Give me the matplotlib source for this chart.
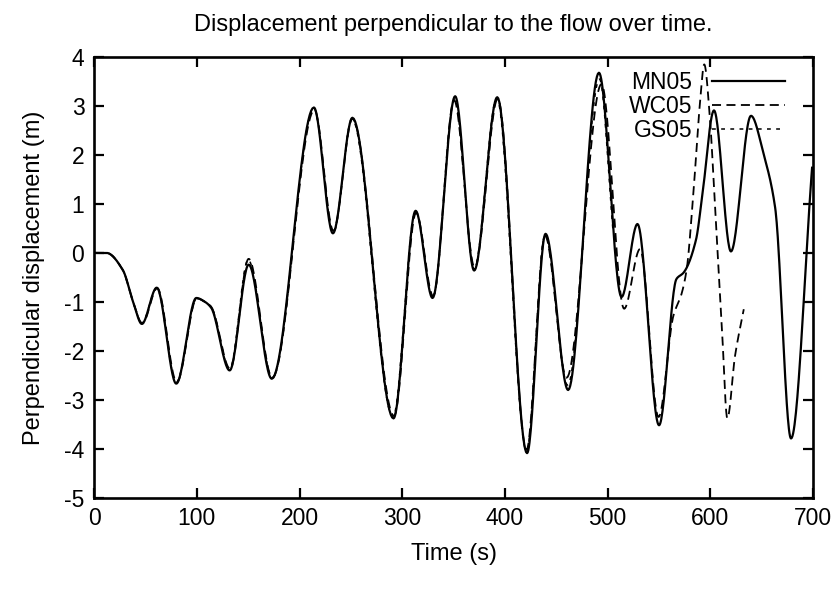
import numpy as np
import matplotlib
matplotlib.use("Agg")
import matplotlib.pyplot as plt

plt.rcParams['font.family'] = ['Liberation Sans', 'DejaVu Sans']
plt.rcParams['axes.unicode_minus'] = False

# ---------------- DATA ----------------
# MN05: solid line, key points (time s, displacement m)
mn05_t = [0, 12, 28, 38, 46.5, 61, 80, 99.5, 108, 114, 132, 150.5, 173,
          214, 232.5, 251.5, 291.5, 313, 329.5, 351.5, 370, 392.5, 421.5,
          439.5, 461.5, 491.5, 513.5, 529, 550, 567, 574, 586, 592, 603.5,
          620, 639.5, 652, 663, 678.5, 699]
mn05_v = [0, 0, -0.35, -1.0, -1.45, -0.71, -2.67, -0.92, -1.0, -1.12, -2.4,
          -0.24, -2.57, 2.97, 0.4, 2.76, -3.38, 0.86, -0.92, 3.2, -0.36, 3.18,
          -4.09, 0.39, -2.8, 3.68, -0.9, 0.59, -3.52, -0.53, -0.4, 0.27, 1.15,
          2.91, 0.03, 2.8, 2.0, 0.93, -3.79, 1.74]

# WC05: dashed line
wc05_t = [0, 12, 28, 38, 47, 61.5, 80.5, 100, 108, 114, 132.5, 150.5, 173.5,
          214.5, 233, 251.5, 292, 313.5, 330, 350.5, 370.5, 393, 421, 439,
          460, 494, 516, 531.5, 549.5, 564, 572, 577, 583, 590, 594, 599.5,
          604.5, 611, 616.5, 624, 632.5]
wc05_v = [0, 0, -0.35, -1.0, -1.44, -0.72, -2.64, -0.93, -1.0, -1.1, -2.37,
          -0.12, -2.55, 2.92, 0.45, 2.74, -3.33, 0.82, -0.88, 3.12, -0.3, 3.15,
          -4.02, 0.35, -2.55, 3.45, -1.14, 0.08, -3.35, -1.28, -0.83, -0.32,
          1.1, 3.1, 3.85, 2.76, 0.93, -1.44, -3.38, -2.1, -1.15]

# GS05: short-dashed line
gs05_t = [0, 12, 28, 38, 46.5, 61, 80, 100, 108, 114, 132, 150, 173.5, 214,
          233, 251, 291, 313, 330, 351, 370, 392, 421, 439, 461, 492, 505]
gs05_v = [0, 0, -0.35, -1.0, -1.43, -0.72, -2.64, -0.93, -1.0, -1.1, -2.37,
          -0.14, -2.55, 2.95, 0.42, 2.74, -3.35, 0.85, -0.9, 3.15, -0.33, 3.16,
          -4.05, 0.37, -2.7, 3.55, 0.5]

labels = ["MN05", "WC05", "GS05"]
x_ticks = [0, 100, 200, 300, 400, 500, 600, 700]
y_ticks = [-5, -4, -3, -2, -1, 0, 1, 2, 3, 4]
# ---------------------------------------------------------------


def smooth(t, v, per_seg=30):
    """Monotone cubic Hermite curve through the read points."""
    t = np.asarray(t, float)
    v = np.asarray(v, float)
    h = np.diff(t)
    d = np.diff(v) / h
    m = np.zeros_like(v)
    for k in range(1, len(v) - 1):
        if d[k - 1] * d[k] > 0:
            w1 = 2 * h[k] + h[k - 1]
            w2 = h[k] + 2 * h[k - 1]
            m[k] = (w1 + w2) / (w1 / d[k - 1] + w2 / d[k])
    m[-1] = d[-1]
    xs, ys = [], []
    for k in range(len(h)):
        s = np.linspace(0, 1, per_seg, endpoint=False)
        h00 = 2 * s**3 - 3 * s**2 + 1
        h10 = s**3 - 2 * s**2 + s
        h01 = -2 * s**3 + 3 * s**2
        h11 = s**3 - s**2
        xs.append(t[k] + s * h[k])
        ys.append(h00 * v[k] + h10 * h[k] * m[k] + h01 * v[k + 1] + h11 * h[k] * m[k + 1])
    xs.append([t[-1]])
    ys.append([v[-1]])
    return np.concatenate(xs), np.concatenate(ys)


fig = plt.figure(figsize=(8.4, 6.07), dpi=100)
ax = fig.add_axes([0.112, 0.18, 0.856, 0.726])

x, y = smooth(mn05_t, mn05_v)
ax.plot(x, y, color="black", lw=1.6, ls="-", label=labels[0])
x, y = smooth(wc05_t, wc05_v)
ax.plot(x, y, color="black", lw=1.3, ls=(0, (5, 3)), label=labels[1])
x, y = smooth(gs05_t, gs05_v)
ax.plot(x, y, color="black", lw=1.1, ls=(0, (2.5, 3.5)), label=labels[2])

ax.set_xlim(0, 700)
ax.set_ylim(-5, 4)
ax.set_xticks(x_ticks)
ax.set_yticks(y_ticks)
ax.tick_params(direction="in", length=7, width=1.6, labelsize=16.5,
               top=True, right=True, pad=7)
for sp in ax.spines.values():
    sp.set_linewidth(1.9)

ax.set_title("Displacement perpendicular to the flow over time.",
             fontsize=17, pad=19)
ax.set_xlabel("Time (s)", fontsize=17, labelpad=9)
ax.set_ylabel("Perpendicular displacement (m)", fontsize=17, labelpad=14)

leg = ax.legend(loc="upper right", bbox_to_anchor=(0.974, 0.99),
                frameon=False, markerfirst=False, fontsize=16.5,
                handlelength=3.2, handletextpad=0.85, labelspacing=0.06,
                borderaxespad=0.0)

fig.savefig("out.png", dpi=100)
